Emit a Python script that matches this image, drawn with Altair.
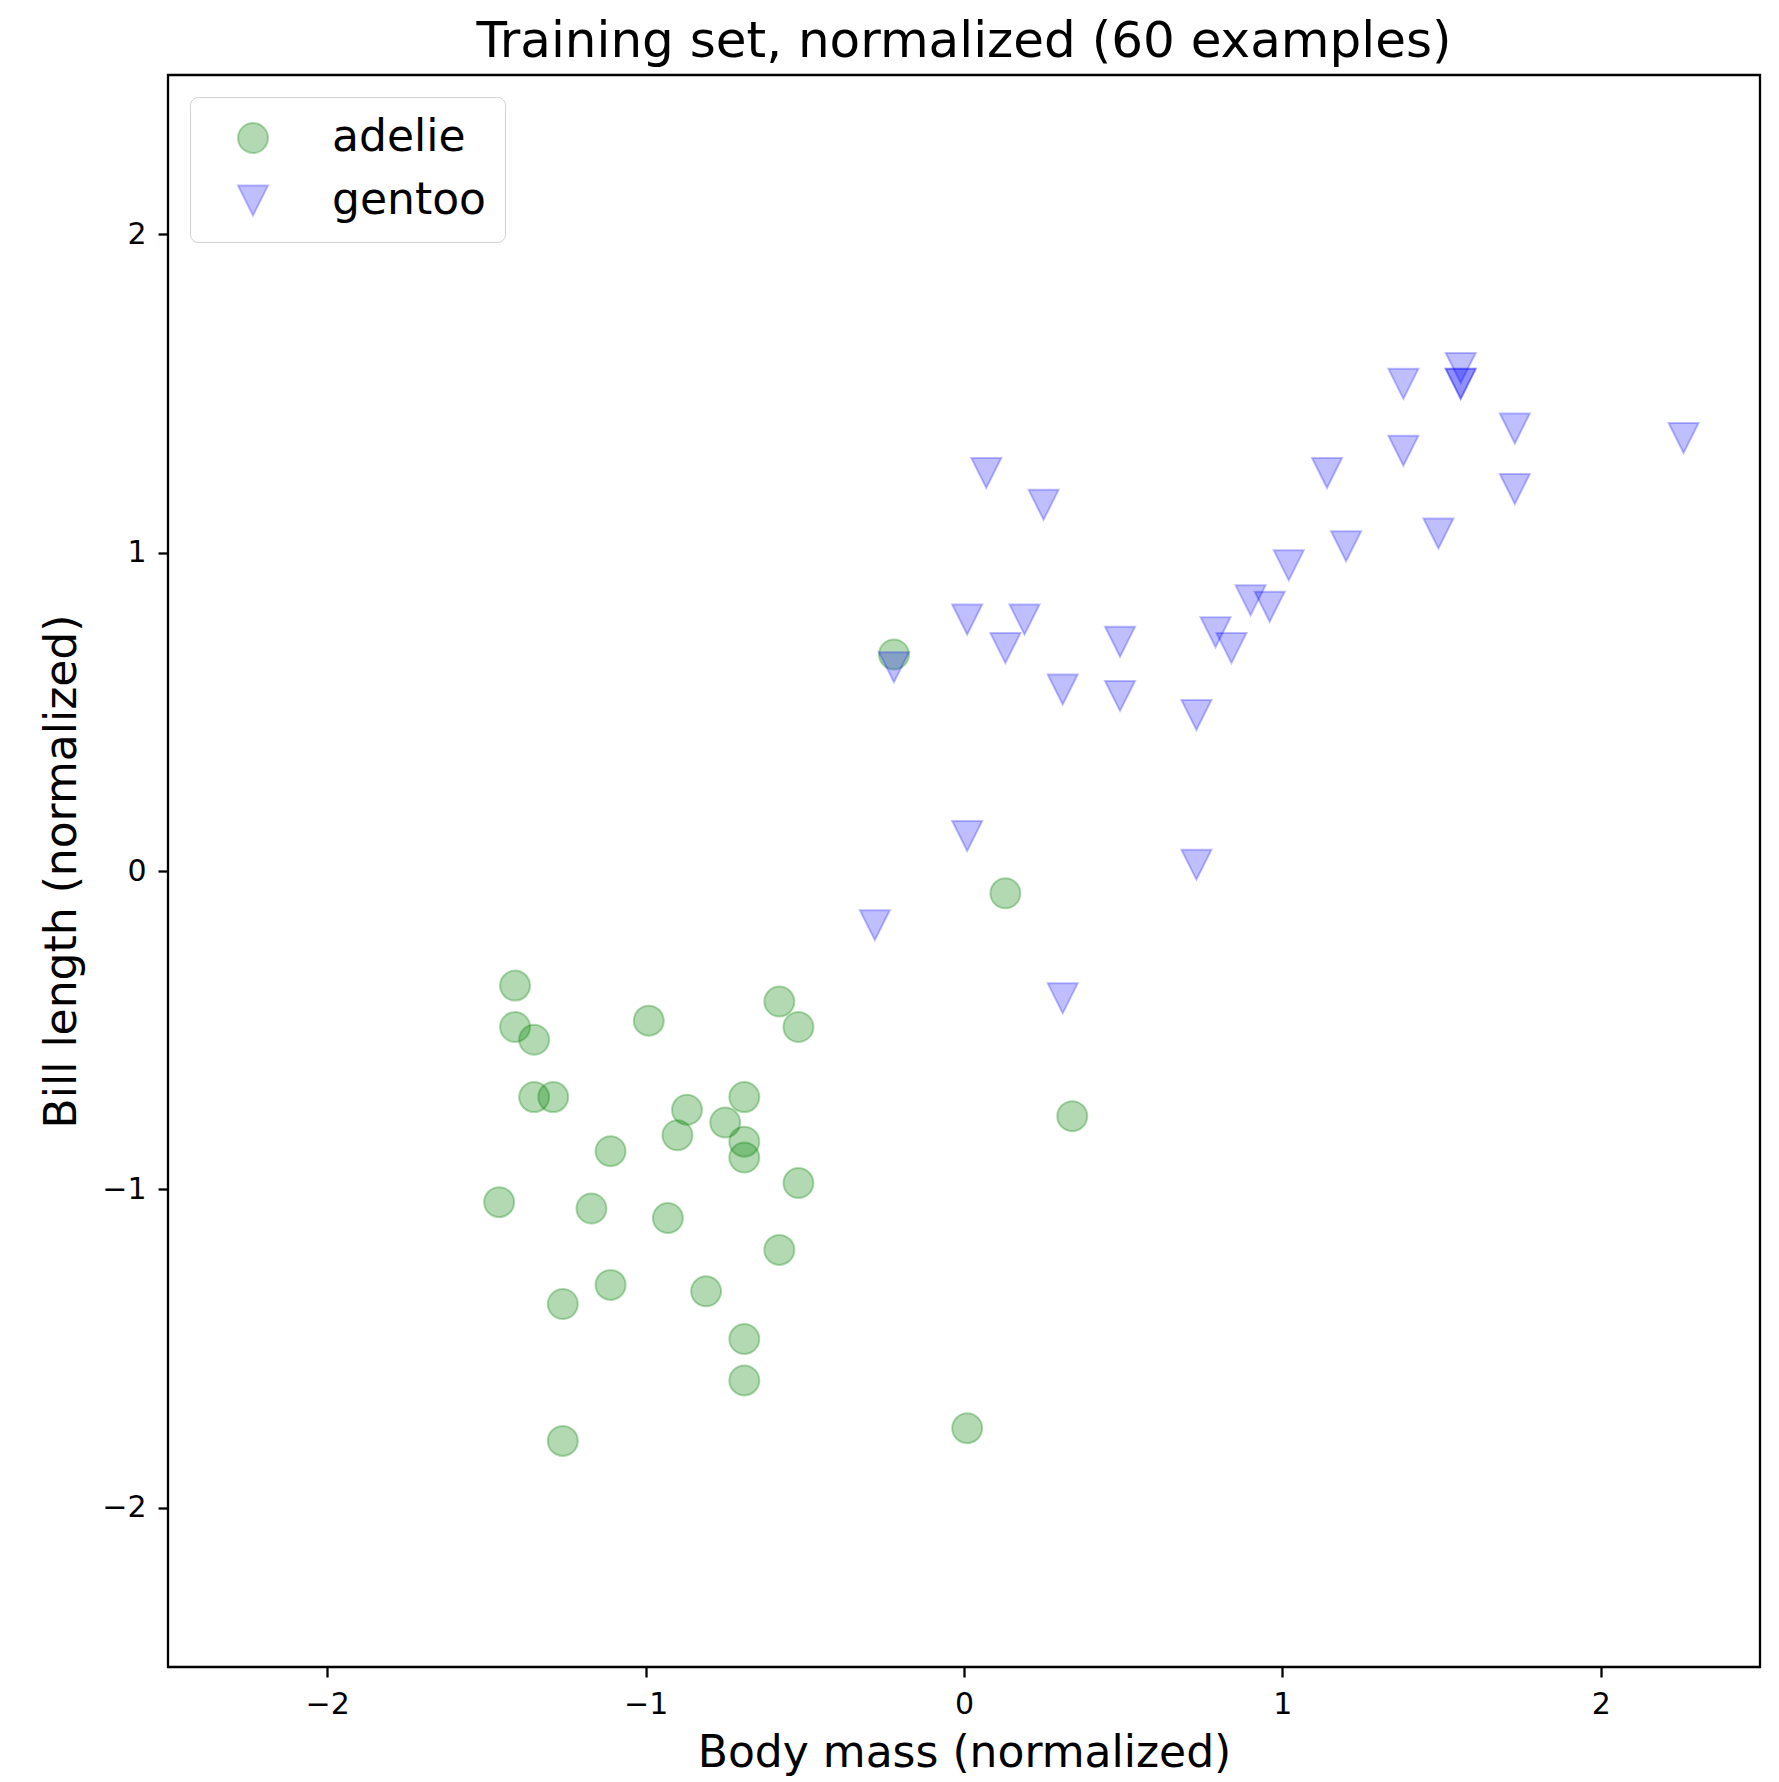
import altair as alt
import pandas as pd

# Adelie: body mass (normalized), bill length (normalized)
adelie_mass = [-0.22, 0.13, 0.34, 0.01, -1.41, -1.41, -1.35, -0.99, -0.58, -0.52,
               -1.35, -1.29, -0.87, -0.69, -0.75, -0.90, -0.69, -0.69, -1.11, -0.52,
               -1.46, -1.17, -0.93, -0.58, -1.11, -0.81, -1.26, -0.69, -0.69, -1.26]
adelie_bill = [0.68, -0.07, -0.77, -1.75, -0.36, -0.49, -0.53, -0.47, -0.41, -0.49,
               -0.71, -0.71, -0.75, -0.71, -0.79, -0.83, -0.85, -0.90, -0.88, -0.98,
               -1.04, -1.06, -1.09, -1.19, -1.30, -1.32, -1.36, -1.47, -1.60, -1.79]

# Gentoo
gentoo_mass = [-0.22, 0.01, 0.13, 0.19, 0.07, 0.25, 0.31, 0.49, 0.49, 0.73,
               0.79, 0.84, 0.90, 0.96, 1.02, 1.14, 1.20, 1.38, 1.38, 1.56,
               1.56, 1.56, 1.73, 1.73, 1.49, 2.26, 0.01, 0.73, -0.28, 0.31]
gentoo_bill = [0.64, 0.79, 0.70, 0.79, 1.25, 1.15, 0.57, 0.55, 0.72, 0.49,
               0.75, 0.70, 0.85, 0.83, 0.96, 1.25, 1.02, 1.53, 1.32, 1.58,
               1.53, 1.53, 1.39, 1.20, 1.06, 1.36, 0.11, 0.02, -0.17, -0.40]

species = ["adelie", "gentoo"]
colors = ["rgba(0,128,0,0.3)", "rgba(0,0,255,0.25)"]
shapes = ["circle", "M-1,-1L1,-1L0,1Z"]
ticks = [-2, -1, 0, 1, 2]

df = pd.DataFrame({
    "mass": adelie_mass + gentoo_mass,
    "bill": adelie_bill + gentoo_bill,
    "species": ["adelie"] * len(adelie_mass) + ["gentoo"] * len(gentoo_mass),
})

FONT = "DejaVu Sans"

legend = alt.Legend(
    title=None, orient="none", legendX=22, legendY=22,
    labelFont=FONT, labelFontSize=44, labelColor="black",
    symbolSize=900, symbolStrokeWidth=2, symbolOpacity=1,
    padding=19, cornerRadius=8, strokeColor="#d0d0d0", fillColor="white",
    rowPadding=18.6, labelOffset=57, symbolOffset=22,
)

scale_c = alt.Scale(domain=species, range=colors)

def axis(title, pad):
    return alt.Axis(
        title=title, values=ticks, grid=False, domain=False,
        tickSize=10, tickWidth=2.3, tickColor="black",
        labelFont=FONT, labelFontSize=30, labelColor="black", labelPadding=12,
        titleFont=FONT, titleFontSize=44, titleFontWeight="normal",
        titleColor="black", titlePadding=pad,
    )

chart = alt.Chart(df).mark_point(filled=True, size=900, strokeWidth=2, opacity=1).encode(
    x=alt.X("mass:Q", scale=alt.Scale(domain=[-2.5, 2.5], nice=False, zero=False),
            axis=axis("Body mass (normalized)", 12)),
    y=alt.Y("bill:Q", scale=alt.Scale(domain=[-2.5, 2.5], nice=False, zero=False),
            axis=axis("Bill length (normalized)", 17)),
    fill=alt.Fill("species:N", scale=scale_c, legend=legend),
    stroke=alt.Stroke("species:N", scale=scale_c, legend=legend),
    shape=alt.Shape("species:N", scale=alt.Scale(domain=species, range=shapes), legend=legend),
).properties(
    width=1592, height=1592,
    title=alt.Title("Training set, normalized (60 examples)", font=FONT, fontSize=50,
                    fontWeight="normal", color="black", anchor="middle",
                    baseline="alphabetic", offset=-32),
    autosize=alt.AutoSizeParams(type="none"),
    padding={"left": 160, "top": 67, "right": 10, "bottom": 112},
).configure_view(stroke="black", strokeWidth=2.3)

chart.save("out.html", embed_options={"renderer": "svg", "actions": False})
